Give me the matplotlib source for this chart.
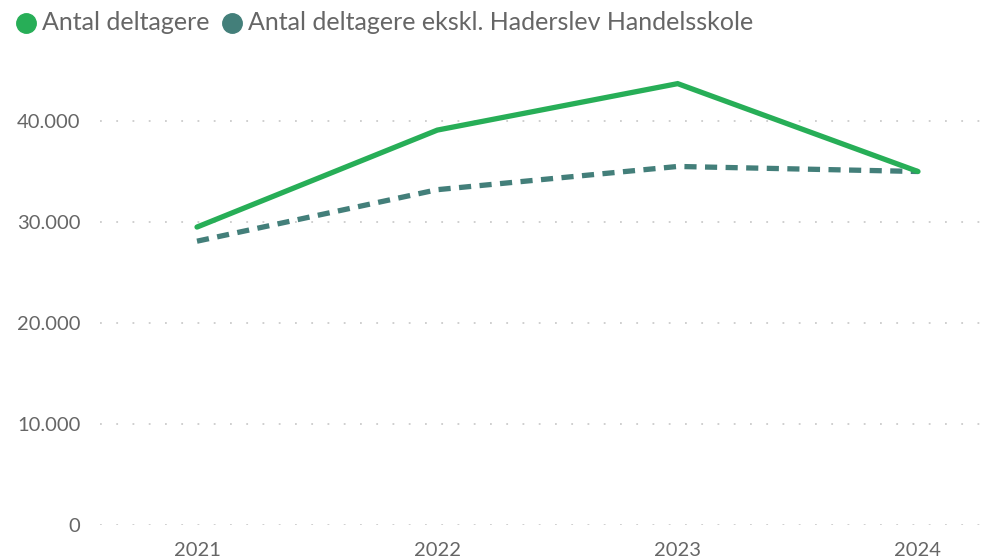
import matplotlib
matplotlib.use("Agg")
import matplotlib.pyplot as plt
from matplotlib.lines import Line2D

years = ["2021", "2022", "2023", "2024"]
deltagere = [29500, 39100, 43700, 35000]
deltagere_ekskl = [28100, 33200, 35500, 35000]
y_ticks = [0, 10000, 20000, 30000, 40000]
y_labels = ["0", "10.000", "20.000", "30.000", "40.000"]
series_names = ["Antal deltagere", "Antal deltagere ekskl. Haderslev Handelsskole"]
colors = ["#27ae57", "#437f7a"]

plt.rcParams['font.family'] = ['Lato', 'DejaVu Sans']
W, H = 995, 558
fig = plt.figure(figsize=(W / 100, H / 100), dpi=100)
left, right = 100, 985
bottom_px, top_px = 525, 70.5
ax = fig.add_axes([left / W, 1 - bottom_px / H, (right - left) / W, (bottom_px - top_px) / H])

x = list(range(len(years)))
ax.plot(x, deltagere, color=colors[0], lw=3.8, solid_capstyle='round', solid_joinstyle='miter', zorder=3)
ax.plot(x, deltagere_ekskl, color=colors[1], lw=3.8, dashes=(2.3, 1.6), dash_capstyle='butt', zorder=2)

ax.set_xlim(-97 / 240.3, 3 + 67 / 240.3)
ax.set_ylim(0, 45000)
ax.set_yticks(y_ticks)
ax.set_yticklabels(y_labels)
ax.set_xticks(x)
ax.set_xticklabels(years)
ax.yaxis.grid(True, color='#cccccc', linestyle=(0, (1, 8)), lw=1.3)
ax.set_axisbelow(True)
for s in ax.spines.values():
    s.set_visible(False)
ax.tick_params(axis='both', length=0, labelsize=14.5, colors='#666666')
ax.tick_params(axis='y', pad=14)
ax.tick_params(axis='x', pad=12)

lx = [26, 232]
for i, name in enumerate(series_names):
    fig.add_artist(Line2D([lx[i] / W], [1 - 23 / H], marker='o', markersize=14,
                          color=colors[i], transform=fig.transFigure))
    fig.text((lx[i] + 16) / W, 1 - 22 / H, name, fontsize=18, color='#666666',
             va='center', ha='left')

fig.savefig("out.png", dpi=100)
